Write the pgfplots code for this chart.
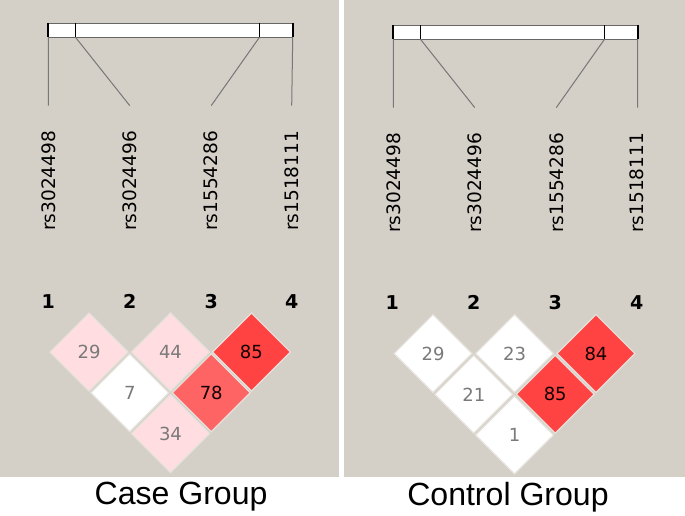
\documentclass[border=0pt]{standalone}
\usepackage{pgfplots}
\usepackage{pgfplotstable}
\pgfplotsset{compat=1.18}
\usepackage{fontspec}
\setmainfont{DejaVu Sans}
\newfontfamily\titlefont{Liberation Sans}

\definecolor{panel}{HTML}{D4D0C8}
\definecolor{gapc}{HTML}{E6E2DC}
\definecolor{ldw}{HTML}{FFFFFF}
\definecolor{ldp}{HTML}{FFDDE0}
\definecolor{ldm}{HTML}{FF6464}
\definecolor{ldr}{HTML}{FF4242}
\definecolor{lbl}{HTML}{7A7A7A}
\definecolor{dk}{HTML}{140000}
\definecolor{conn}{HTML}{777777}

% LD cells: centre (x,y) in pixel units, colour class, D' value, dark text (1) or grey (0)
\pgfplotstableread{
x y c v d
90.5 353 p 29 0
171.5 353 p 44 0
252 353 r 85 1
131 393.5 w 7 0
212 393.5 m 78 1
171.5 434 p 34 0
}\casecells

\pgfplotstableread{
x y c v d
432.5 354.5 w 29 0
513.5 354.5 w 23 0
594.5 354.5 r 84 1
473 395 w 21 0
554 395 r 85 1
513.5 435.5 w 1 0
}\controlcells

\pgfplotsset{
  ldcells/.style={
    scatter, only marks, mark=square*, mark size=27.5pt,
    mark options={rotate=45},
    scatter src=explicit symbolic,
    scatter/classes={
      w={fill=ldw, draw=gapc, line width=1.2pt},
      p={fill=ldp, draw=gapc, line width=1.2pt},
      m={fill=ldm, draw=gapc, line width=1.2pt},
      r={fill=ldr, draw=gapc, line width=1.2pt}},
  },
  ldvals/.style={
    only marks, mark=none,
    point meta=explicit symbolic,
    visualization depends on={\thisrow{d}\as\isdark},
    nodes near coords={\ifdim\isdark pt>0.5pt\color{dk}\else\color{lbl}\fi\pgfplotspointmeta},
    every node near coord/.style={anchor=center, font=\fontsize{18}{20}\selectfont},
  },
}
\tikzset{
  snp/.style={rotate=90, anchor=east, font=\fontsize{18.5}{20}\selectfont, inner sep=0pt},
  idx/.style={font=\bfseries\fontsize{19}{21}\selectfont},
}

\begin{document}
\begin{tikzpicture}
\begin{axis}[
  width=685bp, height=519bp, scale only axis,
  xmin=0, xmax=685, ymin=0, ymax=519,
  y dir=reverse,
  hide axis, clip=false,
]
% panels
\addplot[fill=panel, draw=none] coordinates {(2,3) (339,3) (339,477) (2,477) (2,3)};
\addplot[fill=panel, draw=none] coordinates {(344,3) (683,3) (683,477) (344,477) (344,3)};

% --- case group
\draw[fill=white, draw=black!60, line width=1bp] (axis cs:50,26) rectangle (axis cs:293,40);
\draw[black, line width=1.8bp] (axis cs:50,26) -- (axis cs:50,40)
  (axis cs:77,26) -- (axis cs:77,40) (axis cs:260,26) -- (axis cs:260,40)
  (axis cs:293,26) -- (axis cs:293,40);
\draw[conn, line width=1bp] (axis cs:50,40) -- (axis cs:50,108)
  (axis cs:77,40) -- (axis cs:131,108) (axis cs:260,40) -- (axis cs:212,108)
  (axis cs:293,40) -- (axis cs:292,108);
\node[snp] at (axis cs:50,133) {rs3024498};
\node[snp] at (axis cs:131,133) {rs3024496};
\node[snp] at (axis cs:212,133) {rs1554286};
\node[snp] at (axis cs:292,133) {rs1518111};
\node[idx] at (axis cs:50,303) {1};
\node[idx] at (axis cs:131,303) {2};
\node[idx] at (axis cs:212,303) {3};
\node[idx] at (axis cs:292,303) {4};
\addplot[ldcells] table[x=x, y=y, meta=c] {\casecells};
\addplot[ldvals] table[x=x, y=y, meta=v] {\casecells};
\node[font=\titlefont\fontsize{32}{36}\selectfont] at (axis cs:182,497) {Case Group};

% --- control group
\draw[fill=white, draw=black!60, line width=1bp] (axis cs:393,28) rectangle (axis cs:636,42);
\draw[black, line width=1.8bp] (axis cs:393,28) -- (axis cs:393,42)
  (axis cs:420,28) -- (axis cs:420,42) (axis cs:603,28) -- (axis cs:603,42)
  (axis cs:636,28) -- (axis cs:636,42);
\draw[conn, line width=1bp] (axis cs:393,42) -- (axis cs:393,110)
  (axis cs:420,42) -- (axis cs:474,110) (axis cs:603,42) -- (axis cs:555,110)
  (axis cs:636,42) -- (axis cs:636,110);
\node[snp] at (axis cs:393,135) {rs3024498};
\node[snp] at (axis cs:474,135) {rs3024496};
\node[snp] at (axis cs:555,135) {rs1554286};
\node[snp] at (axis cs:635,135) {rs1518111};
\node[idx] at (axis cs:392,304) {1};
\node[idx] at (axis cs:473,304) {2};
\node[idx] at (axis cs:554,304) {3};
\node[idx] at (axis cs:635,304) {4};
\addplot[ldcells] table[x=x, y=y, meta=c] {\controlcells};
\addplot[ldvals] table[x=x, y=y, meta=v] {\controlcells};
\node[font=\titlefont\fontsize{32}{36}\selectfont] at (axis cs:507,497) {Control Group};
\end{axis}
\end{tikzpicture}
\end{document}
